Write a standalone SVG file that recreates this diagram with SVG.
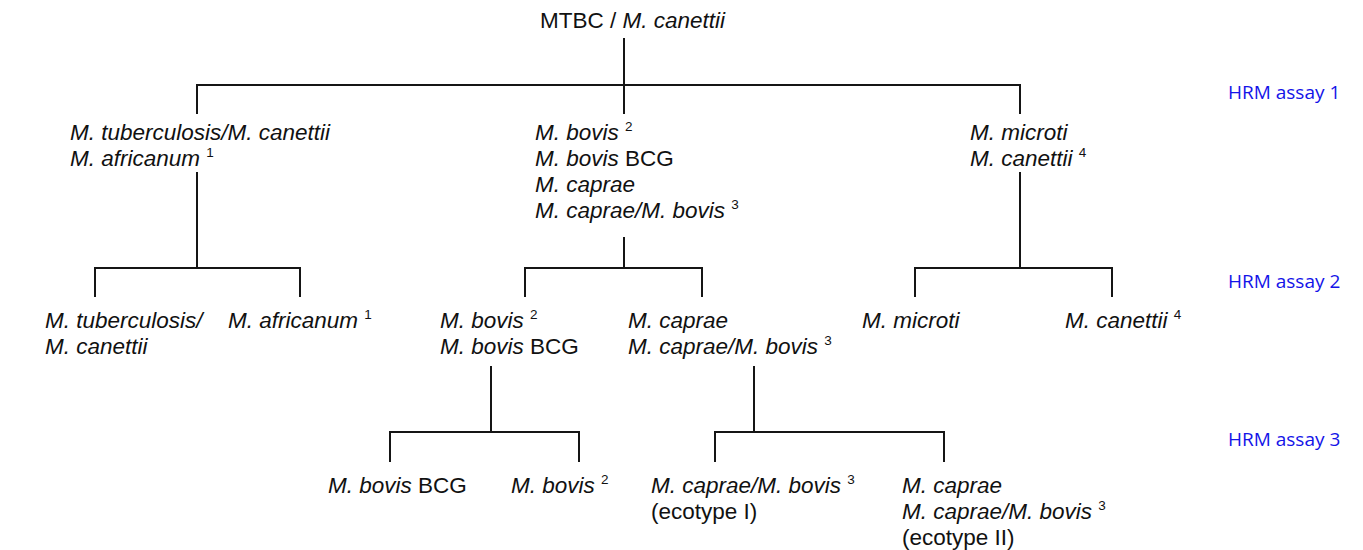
<svg xmlns="http://www.w3.org/2000/svg" width="1363" height="550" viewBox="0 0 1363 550">
<style>
.t{font-family:"Liberation Sans",Arial,sans-serif;font-size:22.5px;fill:#111}
.i{font-style:italic}
.n{font-style:normal}
.s{font-style:normal;font-size:13.5px}
.h{font-family:"Open Sans","Noto Sans",sans-serif;font-size:19px;fill:#1414e8}
.c{stroke:#151515;stroke-width:2;fill:none}
</style>
<rect width="1363" height="550" fill="#fff"/>
<g id="connectors" class="c">
<path d="M624 38V114M197 114V85H1020V114"/>
<path d="M197 172V268M95 297V268H300V297"/>
<path d="M624 237V268M525 297V268H702V297"/>
<path d="M1020 172V268M915 297V268H1112V297"/>
<path d="M491 366V432M390 462V432H579V462"/>
<path d="M754 366V432M715 462V432H944V462"/>
</g>
<g id="root"><text class="t" x="540" y="28">MTBC / <tspan class="i">M. canettii</tspan></text></g>
<g id="labels">
<text class="h" x="1228" y="99">HRM assay 1</text>
<text class="h" x="1228" y="288">HRM assay 2</text>
<text class="h" x="1228" y="446">HRM assay 3</text>
</g>
<g id="n1a" class="t i">
<text x="70" y="140">M. tuberculosis/M. canettii</text>
<text x="70" y="166">M. africanum <tspan class="s" dy="-9">1</tspan></text>
</g>
<g id="n1b" class="t i">
<text x="535" y="140">M. bovis <tspan class="s" dy="-9">2</tspan></text>
<text x="535" y="166">M. bovis <tspan class="n">BCG</tspan></text>
<text x="535" y="192">M. caprae</text>
<text x="535" y="218">M. caprae/M. bovis <tspan class="s" dy="-9">3</tspan></text>
</g>
<g id="n1c" class="t i">
<text x="970" y="140">M. microti</text>
<text x="970" y="166">M. canettii <tspan class="s" dy="-9">4</tspan></text>
</g>
<g id="n2a" class="t i">
<text x="45" y="328">M. tuberculosis/</text>
<text x="45" y="354">M. canettii</text>
</g>
<g id="n2b" class="t i"><text x="228" y="328">M. africanum <tspan class="s" dy="-9">1</tspan></text></g>
<g id="n2c" class="t i">
<text x="440" y="328">M. bovis <tspan class="s" dy="-9">2</tspan></text>
<text x="440" y="354">M. bovis <tspan class="n">BCG</tspan></text>
</g>
<g id="n2d" class="t i">
<text x="628" y="328">M. caprae</text>
<text x="628" y="354">M. caprae/M. bovis <tspan class="s" dy="-9">3</tspan></text>
</g>
<g id="n2e" class="t i"><text x="862" y="328">M. microti</text></g>
<g id="n2f" class="t i"><text x="1065" y="328">M. canettii <tspan class="s" dy="-9">4</tspan></text></g>
<g id="n3a" class="t i"><text x="328" y="493">M. bovis <tspan class="n">BCG</tspan></text></g>
<g id="n3b" class="t i"><text x="511" y="493">M. bovis <tspan class="s" dy="-9">2</tspan></text></g>
<g id="n3c" class="t i">
<text x="651" y="493">M. caprae/M. bovis <tspan class="s" dy="-9">3</tspan></text>
<text x="651" y="519" class="n">(ecotype I)</text>
</g>
<g id="n3d" class="t i">
<text x="902" y="493">M. caprae</text>
<text x="902" y="519">M. caprae/M. bovis <tspan class="s" dy="-9">3</tspan></text>
<text x="902" y="545" class="n">(ecotype II)</text>
</g>
</svg>
